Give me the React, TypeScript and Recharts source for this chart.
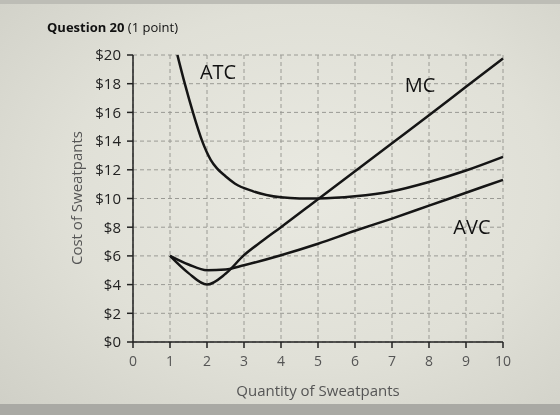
import { LineChart, Line, XAxis, YAxis, CartesianGrid, ReferenceDot } from "recharts";

const qTicks = [0, 1, 2, 3, 4, 5, 6, 7, 8, 9, 10];
const costTicks = [0, 2, 4, 6, 8, 10, 12, 14, 16, 18, 20];

const atcQ    = [1.2, 1.4, 1.62, 1.87, 2.1, 2.27, 2.5, 2.75, 3.25, 4, 4.5, 5, 6, 7, 8, 9, 10];
const atcCost = [20, 18, 16, 14, 12.7, 12.1, 11.55, 11.05, 10.5, 10.08, 10.0, 10.0, 10.15, 10.5, 11.15, 11.95, 12.9];

const mcQ    = [1, 1.5, 2, 2.5, 3, 3.5, 4, 5, 6, 7, 8, 9, 10];
const mcCost = [6, 4.8, 4.0, 4.75, 6.05, 7.05, 8.0, 9.95, 11.9, 13.85, 15.8, 17.78, 19.75];

const avcQ    = [1, 1.5, 2, 2.5, 3, 4, 5, 6, 7, 8, 9, 10];
const avcCost = [6, 5.4, 5.0, 5.05, 5.35, 6.05, 6.85, 7.75, 8.6, 9.5, 10.4, 11.3];

const toRows = (q: number[], c: number[]) => q.map((x, i) => ({ q: x, cost: c[i] }));

const FONT = "'Open Sans', 'Liberation Sans', sans-serif";
const LINE = "#151515";

export default function App() {
  const atc = toRows(atcQ, atcCost);
  const mc  = toRows(mcQ, mcCost);
  const avc = toRows(avcQ, avcCost);

  return (
    <div style={{
      position: "fixed", left: 0, top: 0, width: 560, height: 415, overflow: "hidden",
      background: "radial-gradient(ellipse at 55% 45%, #e9e9e1 0%, #e0e0d7 55%, #cfcfc6 100%)",
      fontFamily: FONT,
    }}>
      <div style={{ position: "absolute", left: 0, top: 0, width: 560, height: 4, background: "#bdbdb6" }} />
      <div style={{ position: "absolute", left: 47, top: 18, fontSize: 13, color: "#111" }}>
        <b>Question 20</b> (1 point)
      </div>
      <div style={{
        position: "absolute", left: 76, top: 198, transform: "translate(-50%, -50%) rotate(-90deg)",
        fontSize: 15, color: "#555", whiteSpace: "nowrap",
      }}>
        Cost of Sweatpants
      </div>
      <div style={{
        position: "absolute", left: 318, top: 390, transform: "translate(-50%, -50%)",
        fontSize: 15, color: "#555", whiteSpace: "nowrap",
      }}>
        Quantity of Sweatpants
      </div>
      <div style={{ position: "absolute", left: 0, top: 404, width: 560, height: 11, background: "#a9a9a4" }} />

      <div style={{ position: "absolute", left: 0, top: 0 }}>
        <LineChart width={560} height={415} margin={{ top: 55, right: 57, bottom: 43, left: 0 }}>
          <CartesianGrid stroke="#9a9a94" strokeDasharray="4 3" />
          <XAxis type="number" dataKey="q" domain={[0, 10]} ticks={qTicks} interval={0} height={30}
            stroke="#222" strokeWidth={1.5} tickSize={6} tickMargin={8}
            tick={{ fill: "#555", fontSize: 14, fontFamily: FONT }} allowDuplicatedCategory={false} />
          <YAxis type="number" domain={[0, 20]} ticks={costTicks} interval={0} width={133}
            allowDataOverflow stroke="#222" strokeWidth={1.5} tickSize={6} tickMargin={6}
            tickFormatter={(v) => `$${v}`}
            tick={{ fill: "#222", fontSize: 15, fontFamily: FONT }} />
          <Line data={atc} dataKey="cost" type="monotone" stroke={LINE} strokeWidth={2.5} dot={false} isAnimationActive={false} />
          <Line data={mc}  dataKey="cost" type="monotone" stroke={LINE} strokeWidth={2.5} dot={false} isAnimationActive={false} />
          <Line data={avc} dataKey="cost" type="monotone" stroke={LINE} strokeWidth={2.5} dot={false} isAnimationActive={false} />
          <ReferenceDot x={2.3} y={18.8} r={0} label={{ value: "ATC", position: "center", fontSize: 20, fill: "#111", fontFamily: FONT }} />
          <ReferenceDot x={7.76} y={17.9} r={0} label={{ value: "MC", position: "center", fontSize: 20, fill: "#111", fontFamily: FONT }} />
          <ReferenceDot x={9.16} y={8.05} r={0} label={{ value: "AVC", position: "center", fontSize: 20, fill: "#111", fontFamily: FONT }} />
        </LineChart>
      </div>
    </div>
  );
}
